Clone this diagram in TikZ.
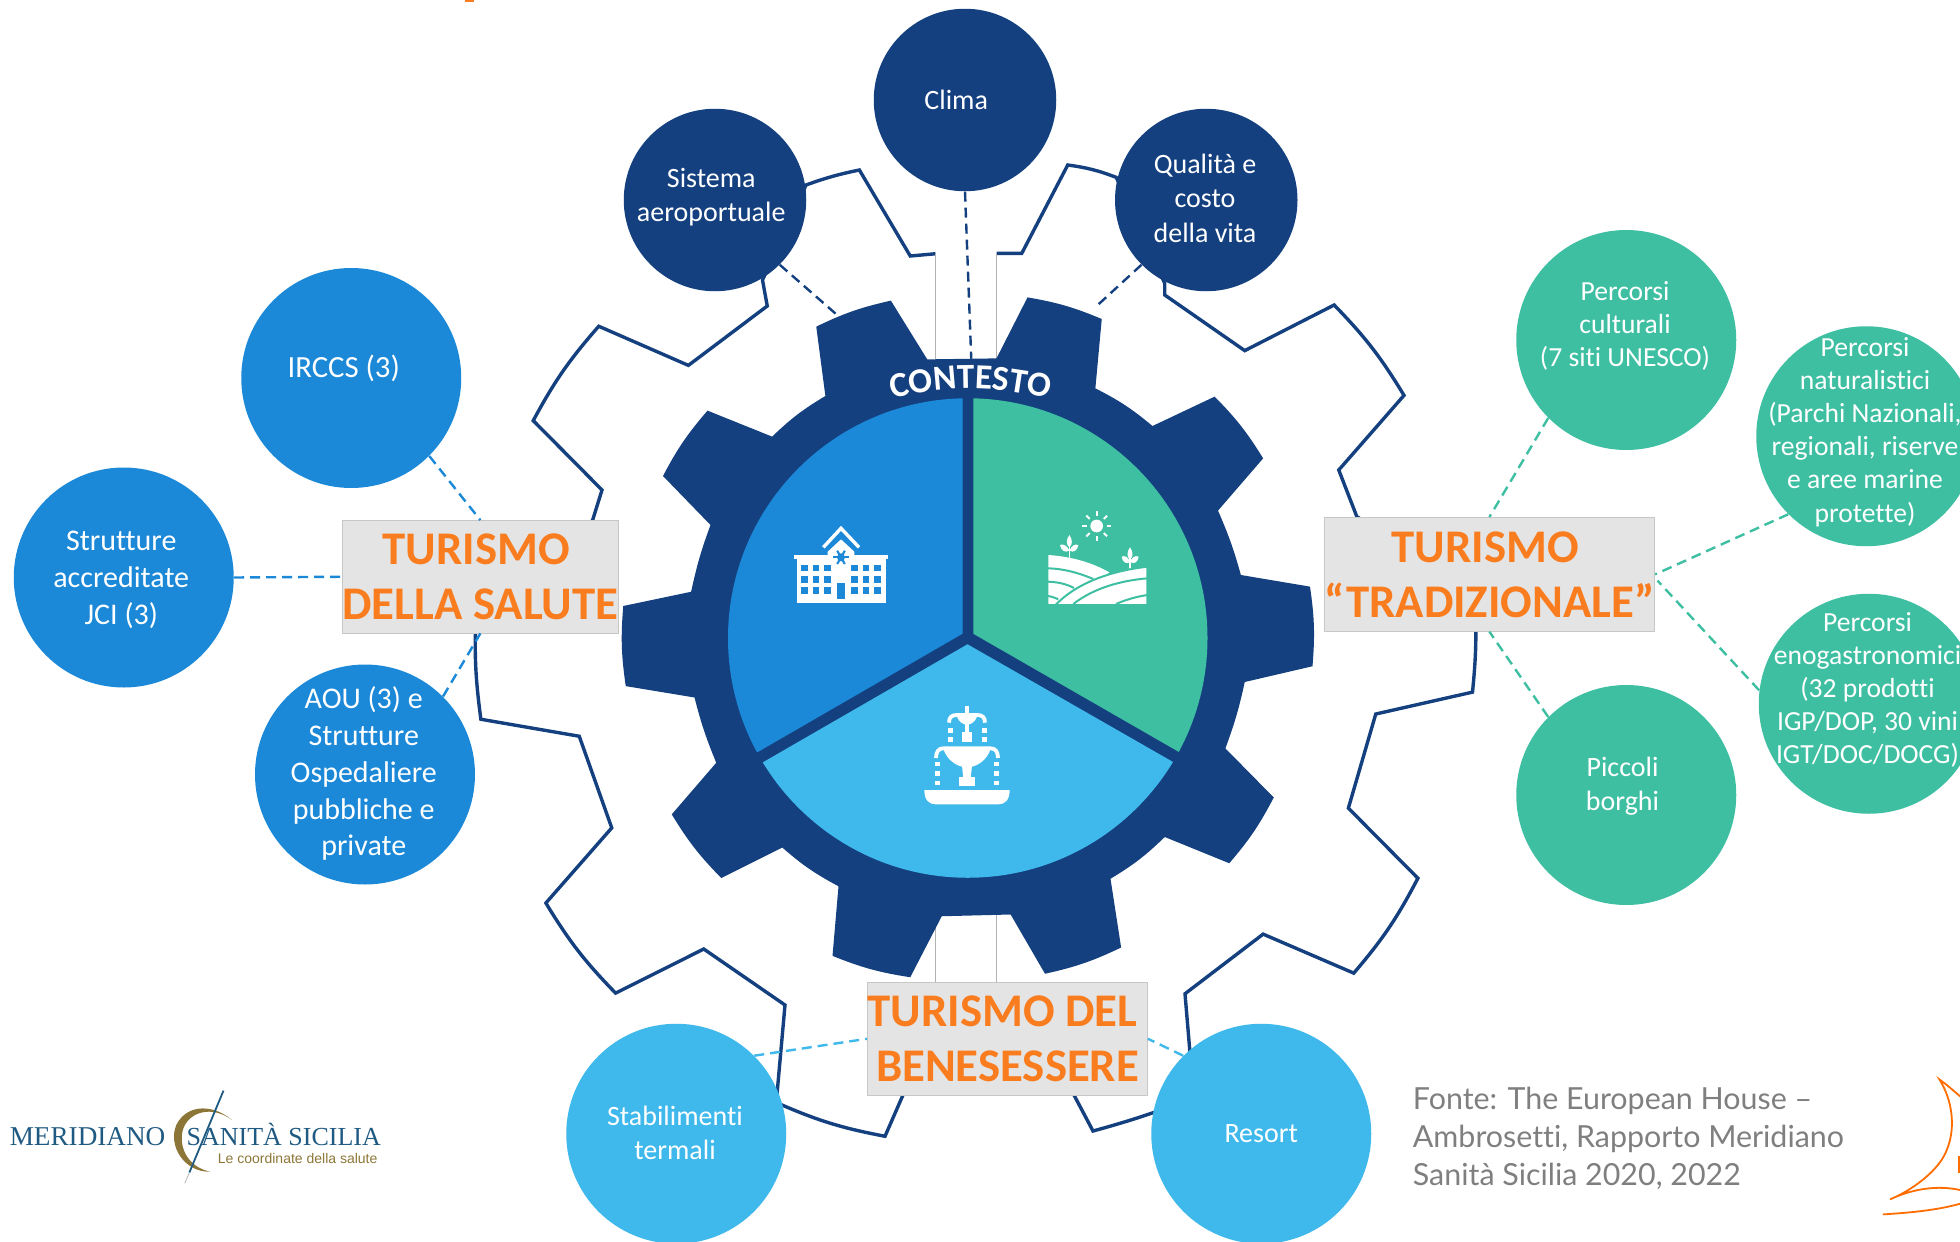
\documentclass[tikz,border=0pt]{standalone}
\usepackage{fontspec}
\setmainfont{Carlito}[Ligatures={NoCommon}]
\newfontfamily\srcfont{Lato}[Ligatures={NoCommon}]
\newfontfamily\logofont{Liberation Serif}
\newfontfamily\tagfont{Liberation Sans}
\usetikzlibrary{decorations.text}
\definecolor{dkblue}{HTML}{14407F}
\definecolor{midblue}{HTML}{1B88D8}
\definecolor{teal}{HTML}{3EBFA2}
\definecolor{ltblue}{HTML}{3FB8EC}
\definecolor{orng}{HTML}{F97C1E}
\definecolor{lblgray}{HTML}{E4E4E4}
\definecolor{srcgray}{HTML}{7F7F7F}
\definecolor{logoblue}{HTML}{1F5A82}
\definecolor{gold}{HTML}{8C7637}
\tikzset{
  bub/.style={circle,inner sep=0pt,text=white,align=center},
  bubsm/.style={bub,minimum size=146*0.625pt},
  bubbig/.style={bub,minimum size=176*0.625pt},
  lbl/.style={draw=black!22,line width=0.4pt,fill=lblgray,inner sep=0pt,text=orng,align=center,font=\fontsize{23.4}{27.5}\selectfont\bfseries},
  dashline/.style={line width=1.2pt,dash pattern=on 5pt off 3pt},
  tipbend/.style={bend left=6.5},
  iconscale/.style={x=0.16667pt,y=-0.16667pt},
}
\newcommand{\txa}{\fontsize{14}{17.2}\selectfont}
\newcommand{\txb}{\fontsize{15}{18.4}\selectfont}
\newcommand{\txc}{\fontsize{13.8}{16.6}\selectfont}
\begin{document}
\begin{tikzpicture}[x=0.625pt,y=-0.625pt]
\useasboundingbox (0,0) rectangle (1568,993.6);
\fill[orng] (372,0) rectangle (379,1.6);
% outer outline gear
\draw[dkblue,line width=1.7pt,line join=miter]
  (797.2,202.7) -- (817.4,202.7) -- (854.2,132) to[tipbend] (893,141.9) -- (931.8,226.7) -- (931.8,236)
  -- (995.8,280.5) -- (1067.3,244) to[tipbend] (1123.2,316.3) -- (1071,376) -- (1085.5,413.4)
  -- (1179,470) to[bend left=5] (1178,553.7) -- (1100.6,571.2) -- (1078.7,646.5) -- (1134.3,702.6) to[tipbend] (1083,778.5)
  -- (1010.5,747.3) -- (948,795) -- (955,878) to[bend left=3] (874.4,904.8) -- (856,870)
  -- (725,870) -- (708,909) to[tipbend] (621,882) -- (628,804) -- (563,759.2) -- (492.5,794.5) to[tipbend] (436.7,722.4)
  -- (489.4,662.3) -- (463.4,589) -- (384.7,575.4) to[bend left=5] (380.8,490) -- (474,416.4) -- (481.6,392) -- (426.6,336.5)
  to[tipbend] (479,261) -- (550.7,292.3) -- (613.8,244.8) -- (610,224) -- (644.8,148) to[bend left=4] (687.5,136) -- (728.2,204.8) -- (748.4,203);
% thin notch rectangles
\draw[black!30,line width=0.4pt] (748.4,203) -- (748.4,290) (797.2,203) -- (797.2,290);
\draw[black!30,line width=0.4pt] (748.4,730) -- (748.4,786) -- (797.2,786) -- (797.2,730);
% inner solid gear
\fill[dkblue] (741.8,287.5) -- (797.2,286.7) -- (822,237.9) to[tipbend] (881.4,255.2) -- (876.3,310.7) to[tipbend] (922,340.8)
  -- (971.7,317.3) to[tipbend] (1010.5,366.7) -- (974.4,408.5) to[bend left=4] (992.7,460) -- (1048,469.3) to[tipbend] (1050,533)
  -- (995.8,545.6) to[bend left=4] (980.3,598.7) -- (1019,638) to[tipbend] (983.4,690.6) -- (931.8,669.6) to[tipbend] (888.4,703)
  -- (896.9,758) to[tipbend] (836,779) -- (808.5,731.6) -- (753.4,733) -- (728.2,781.8) to[tipbend] (666,764.7) -- (670.8,709)
  to[tipbend] (625.8,678) -- (577,702.4) to[tipbend] (537.4,651.5) -- (573,610.2) to[bend left=4] (555.6,558) -- (500.6,548.9)
  to[tipbend] (498.6,484.8) -- (552.9,473.4) to[bend left=4] (568.4,420) -- (530.4,380.8) to[tipbend] (566,328.5) -- (617.7,349.3)
  to[tipbend] (660.3,316.8) -- (653,261.3) to[tipbend] (712.7,240.5) -- cycle;
% three sectors
\begin{scope}
\clip (774.2,510.4) circle[radius=191.8];
\fill[midblue] (770,507) -- (770,300) -- (500,300) -- (500,663) -- cycle;
\fill[teal] (778.6,507) -- (778.6,300) -- (1050,300) -- (1050,663) -- cycle;
\fill[ltblue] (774,515.4) -- (500,673.5) -- (500,760) -- (1050,760) -- (1050,673.5) -- cycle;
\end{scope}
% CONTESTO
\coordinate (arcL) at (701.5,322);
\coordinate (arcR) at (851.5,322);
\path[decorate,decoration={text along path,text align=center,text={|\fontsize{17.6}{20}\selectfont\bfseries\color{white}|CONTESTO}}] (arcL) to[bend left=14.5] (arcR);
% hospital icon
\begin{scope}[shift={(608,408)},iconscale]
\draw[white,line width=1.7pt] (190,112) -- (243,55) -- (297,112);
\fill[white] (203,137) -- (203,125) -- (243,88) -- (283,125) -- (283,137) -- cycle;
\fill[white] (102,136) rectangle (385,148);
\fill[white] (110,148) rectangle (377,279);
\foreach \cx in {123,158,192,274,308,342}
  \foreach \cy in {164,198,232}
    \fill[midblue] (\cx,\cy) rectangle ++(20,20);
\fill[midblue] (230,218) rectangle (256,266);
\foreach \ang in {0,60,120}
  \draw[midblue,line width=1.05pt] (243,142) ++(\ang:23) -- ++(\ang+180:46);
\fill[midblue] (243,142) circle[radius=12];
\end{scope}
% farm icon
\begin{scope}[shift={(824,400)},iconscale]
\fill[white] (200,78) circle[radius=19];
\foreach \ang in {0,45,...,315}
  \draw[white,line width=1pt] (200,78) ++(\ang:30) -- ++(\ang:14);
\draw[white,line width=0.8pt] (118,135) -- (118,178);
\fill[white] (118,105) .. controls (108,118) and (108,135) .. (118,142) .. controls (128,135) and (128,118) .. (118,105) -- cycle;
\fill[white] (90,135) .. controls (100,130) and (112,138) .. (118,152) .. controls (105,160) and (92,150) .. (90,135) -- cycle;
\fill[white] (145,135) .. controls (135,130) and (124,138) .. (118,152) .. controls (131,160) and (143,150) .. (145,135) -- cycle;
\draw[white,line width=0.8pt] (300,175) -- (300,214);
\fill[white] (300,142) .. controls (290,155) and (290,172) .. (300,178) .. controls (310,172) and (310,155) .. (300,142) -- cycle;
\fill[white] (275,170) .. controls (285,165) and (295,172) .. (300,186) .. controls (288,195) and (277,185) .. (275,170) -- cycle;
\fill[white] (326,170) .. controls (316,165) and (305,172) .. (300,186) .. controls (313,195) and (324,185) .. (326,170) -- cycle;
\fill[white] (55,165) .. controls (130,170) and (190,190) .. (238,217) -- (120,312) -- (55,312) -- cycle;
\draw[teal,line width=1pt] (50,205) .. controls (100,205) and (150,220) .. (190,237);
\draw[teal,line width=1pt] (50,245) .. controls (80,245) and (110,252) .. (132,264);
\draw[teal,line width=1pt] (50,288) .. controls (60,288) and (72,292) .. (85,298);
\draw[teal,line width=1pt,fill=white] (72,320) .. controls (140,245) and (250,212) .. (352,200) -- (352,320);
\fill[white] (78,312) rectangle (348,320);
\fill[teal] (50,313) rectangle (360,325);
\draw[teal,line width=1pt] (130,312) .. controls (190,265) and (270,242) .. (352,235);
\draw[teal,line width=1pt] (258,312) .. controls (290,298) and (320,290) .. (352,285);
\end{scope}
% fountain icon
\begin{scope}[shift={(720,552)},iconscale]
\fill[white] (73,300) -- (329,300) .. controls (329,330) and (315,343) .. (295,343) -- (107,343) .. controls (87,343) and (73,330) .. (73,300) -- cycle;
\fill[white] (178,262) rectangle (226,288);
\fill[white] (190,264) -- (186,228) -- (216,228) -- (212,264) -- cycle;
\fill[white] (130,176) -- (272,176) .. controls (262,210) and (230,232) .. (201,232) .. controls (172,232) and (140,210) .. (130,176) -- cycle;
\draw[white,line width=1.9pt] (108,204) .. controls (108,185) and (116,175) .. (130,175) -- (272,175) .. controls (286,175) and (294,185) .. (294,204);
\foreach \dy in {222,250,279} {
  \fill[white] (105,\dy-7) rectangle ++(14,14);
  \fill[white] (283,\dy-7) rectangle ++(14,14);
}
\draw[white,line width=1.9pt] (201,47) -- (201,80);
\draw[white,line width=1.9pt] (147,98) .. controls (147,82) and (155,75) .. (170,75) -- (232,75) .. controls (247,75) and (255,82) .. (255,98);
\fill[white] (170,78) -- (232,78) .. controls (226,95) and (214,104) .. (201,104) .. controls (188,104) and (176,95) .. (170,78) -- cycle;
\fill[white] (194,100) rectangle (208,130);
\fill[white] (187,127) rectangle (216,155);
\foreach \dy in {122,149} {
  \fill[white] (143,\dy-7) rectangle ++(15,15);
  \fill[white] (246,\dy-7) rectangle ++(15,15);
}
\end{scope}
% labels
\node[lbl,minimum width=220.2*0.625pt,minimum height=90*0.625pt] (salute) at (384.3,461.4) {TURISMO\hspace*{4pt}\\DELLA SALUTE};
\node[lbl,minimum width=263*0.625pt,minimum height=91*0.625pt] (trad) at (1191.5,459.5) {TURISMO\hspace*{4pt}\\“TRADIZIONALE”};
\node[lbl,minimum width=224*0.625pt,minimum height=90*0.625pt] (ben) at (806,831) {TURISMO DEL\hspace*{5pt}\\BENESESSERE};
% bubbles
\node[bubsm,fill=dkblue,font=\txa] (clima) at (772,80) {};
\node[font=\txa,text=white,inner sep=0pt] (climat) at (765,80) {Clima};
\node[bubsm,fill=dkblue] (aero) at (572,160) {};
\node[font=\txa,text=white,align=center,inner sep=0pt] (aerot) at (569,157.5) {Sistema\\aeroportuale};
\node[bubsm,fill=dkblue] (vita) at (965,160) {};
\node[font=\txa,text=white,align=center,inner sep=0pt] (vitat) at (964,158.5) {Qualità e\\costo\\della vita};
\node[bubbig,fill=midblue] (irccs) at (281,302.4) {};
\node[font=\fontsize{15.4}{18}\selectfont,text=white,inner sep=0pt] (irccst) at (275,295) {IRCCS (3)};
\node[bubbig,fill=midblue] (jci) at (99,462) {};
\node[font=\txb,text=white,align=center,inner sep=0pt] (jcit) at (97,464) {Strutture\\accreditate\\JCI (3)};
\node[bubbig,fill=midblue] (aou) at (292,619.6) {};
\node[font=\txb,text=white,align=center,inner sep=0pt] (aout) at (291,619) {AOU (3) e\\Strutture\\Ospedaliere\\pubbliche e\\private};
\node[bubbig,fill=teal] (cult) at (1301,272) {};
\node[font=\txc,text=white,align=center,inner sep=0pt] (cultt) at (1300,260.5) {Percorsi\\culturali\\(7 siti UNESCO)};
\node[bubbig,fill=teal] (nat) at (1493,349) {};
\node[font=\txc,text=white,align=center,inner sep=0pt] (natt) at (1492,345.5) {Percorsi\\naturalistici\\(Parchi Nazionali,\\regionali, riserve\\e aree marine\\protette)};
\node[bubbig,fill=teal] (eno) at (1495,563) {};
\node[font=\txc,text=white,align=center,inner sep=0pt] (enot) at (1494,552) {Percorsi\\enogastronomici\\(32 prodotti\\IGP/DOP, 30 vini\\IGT/DOC/DOCG)};
\node[bubbig,fill=teal] (borghi) at (1301,636) {};
\node[font=\txa,text=white,align=center,inner sep=0pt] (borghit) at (1298,629) {Piccoli\\borghi};
\node[bubbig,fill=ltblue] (terme) at (541,907) {};
\node[font=\txa,text=white,align=center,inner sep=0pt] (termet) at (540,906.5) {Stabilimenti\\termali};
\node[bubbig,fill=ltblue] (resort) at (1009,907) {};
\node[font=\txa,text=white,inner sep=0pt] (resortt) at (1009,907) {Resort};
% connectors
\coordinate (gearTop) at (777,287);
\coordinate (gearL) at (672,254);
\coordinate (gearR) at (876,246);
\coordinate (tradE) at (1326,464.5);
\draw[dashline,dkblue] (clima.south) -- (gearTop);
\draw[dashline,dkblue] (aero.-45) -- (gearL);
\draw[dashline,dkblue] (vita.225) -- (gearR);
\draw[dashline,midblue] (irccs.-45) -- (salute.north);
\draw[dashline,midblue] (jci.east) -- (salute.west);
\draw[dashline,midblue] (aou.45) -- (salute.south);
\draw[dashline,teal] (cult.225) -- (trad.north);
\draw[dashline,teal] (nat.225) -- (trad.east);
\draw[dashline,teal] (eno.173) -- (tradE);
\draw[dashline,teal] (borghi.135) -- (trad.south);
\draw[dashline,ltblue] (terme.45) -- (ben.west);
\draw[dashline,ltblue] (resort.135) -- (ben.east);
% source
\node[anchor=north west,inner sep=0pt,align=left,text=srcgray,font=\srcfont\fontsize{15.2}{19.2}\selectfont] (fonte) at (1130,869) {Fonte: The European House –\\Ambrosetti, Rapporto Meridiano\\Sanità Sicilia 2020, 2022};
% left logo
\fill[gold] (185.5,896) .. controls (172,884) and (150,882) .. (141,900) .. controls (134,917) and (148,938) .. (168,937.3) .. controls (152,934) and (143,920) .. (146,905) .. controls (150,889) and (170,884) .. (185.5,896) -- cycle;
\draw[logoblue,line width=0.9pt] (178.8,872.5) -- (151.5,938);
\draw[black!35,line width=0.3pt] (151.5,938) -- (147.8,946.7);
\node[anchor=base west,inner sep=0pt,text=logoblue,font=\logofont\fontsize{13.6}{14}\selectfont] (logoa) at (7.5,916) {MERIDIANO};
\node[anchor=base west,inner sep=0pt,text=logoblue,font=\logofont\fontsize{13}{14}\selectfont] (logob) at (149,916) {SANITÀ SICILIA};
\node[anchor=base west,inner sep=0pt,text=gold,font=\tagfont\fontsize{7}{8}\selectfont] (logoc) at (174,931) {Le coordinate della salute};
% right logo fragment
\draw[orange!85!red,line width=0.9pt,line cap=round] (1568,877) .. controls (1560,870) and (1555,866) .. (1551.5,863.5) .. controls (1562,880) and (1566,905) .. (1555,925) .. controls (1548,938) and (1530,952) .. (1512,959.5) .. controls (1530,951) and (1550,948) .. (1568,952);
\draw[orange!85!red,line width=0.9pt,line cap=round] (1506.8,971.5) .. controls (1530,970) and (1550,968) .. (1568,963);
\fill[orange!85!red] (1566,925) rectangle (1568,938);
\end{tikzpicture}
\end{document}
